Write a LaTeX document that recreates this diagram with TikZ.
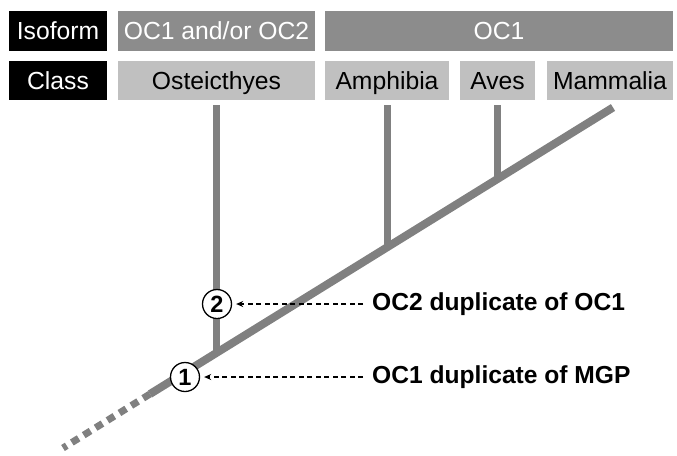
\documentclass[tikz,border=0pt]{standalone}
\usepackage{fontspec}
\setmainfont{Liberation Sans}
\usetikzlibrary{arrows.meta}

\definecolor{isogrey}{RGB}{140,140,140}
\definecolor{clsgrey}{RGB}{192,192,192}
\definecolor{treegrey}{RGB}{128,128,128}

\tikzset{
  boxtext/.style={inner sep=0pt,text height=17.7pt,text depth=0pt,font=\fontsize{24.7}{28}\selectfont},
  head/.style={boxtext,fill=black,text=white,minimum height=40pt},
  isobox/.style={boxtext,fill=isogrey,text=white,minimum height=40pt},
  clsbox/.style={boxtext,fill=clsgrey,text=black,minimum height=39pt},
  branch/.style={draw=treegrey,line width=7pt},
  dupl/.style={circle,draw,fill=white,line width=1.3pt,minimum size=29pt,inner sep=0pt,font=\bfseries\fontsize{23.5}{26}\selectfont},
  note/.style={anchor=west,inner sep=0pt,font=\bfseries\fontsize{24.6}{28}\selectfont},
  pointer/.style={dash pattern=on 5pt off 3.5pt,line width=1.1pt,-{Stealth[length=7pt,width=6pt]},shorten >=4pt}
}

\begin{document}
\begin{tikzpicture}[x=1pt,y=-1pt]
\useasboundingbox (0,0) rectangle (677,455);

% header rows
\node[head,minimum width=98pt] (iso) at (58,31){Isoform};
\node[isobox,minimum width=197pt] (both) at (216.5,31){OC1 and/or OC2};
\node[isobox,minimum width=348pt] (one) at (499,31){OC1};
\node[head,minimum width=98pt,minimum height=39pt] (cls) at (58,80.5){Class};
\node[clsbox,minimum width=197pt] (ost) at (216.5,80.5){Osteicthyes};
\node[clsbox,minimum width=124pt] (amp) at (387,80.5){Amphibia};
\node[clsbox,minimum width=75pt] (ave) at (497.5,80.5){Aves};
\node[clsbox,minimum width=126pt] (mam) at (610,80.5){Mammalia};

% tree
\coordinate (root) at (63,448);
\coordinate (stem) at (150,394);
\coordinate (jost) at (216.5,353);
\coordinate (jamp) at (387,247.5);
\coordinate (jave) at (497.5,179);
\coordinate (tip) at (613,107.5);

\draw[branch,dash pattern=on 8pt off 6pt] (stem) -- (root);
\draw[branch,line width=8pt] (stem) -- (tip);
\foreach \taxon/\jn in {ost/jost,amp/jamp,ave/jave}
\draw[branch,shorten <=5pt] (\taxon.south) -- (\jn);

% duplications
\node[dupl] (d2) at (217,304){2};
\node[dupl] (d1) at (185,377){1};
\node[note] (n2) at (372,304){OC2 duplicate of OC1};
\node[note] (n1) at (372,377){OC1 duplicate of MGP};

\foreach \from/\to in {n2/d2,n1/d1}
\draw[pointer] (\from.west) ++(-9,0) -- (\to.east |- \from.west);
\end{tikzpicture}
\end{document}
